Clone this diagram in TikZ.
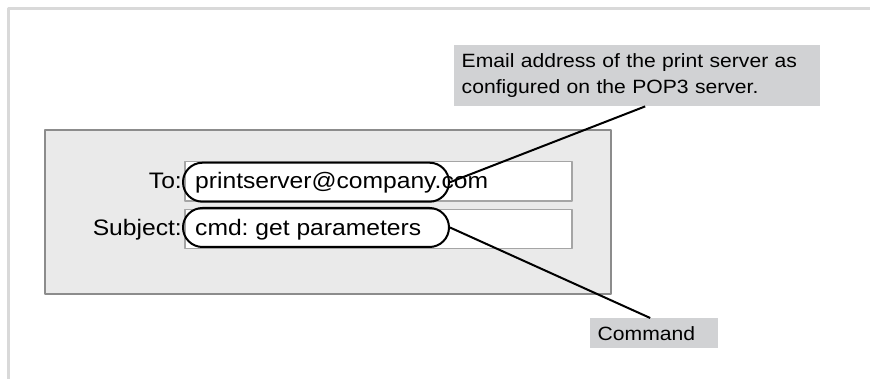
\documentclass[tikz,border=0pt]{standalone}
\usepackage{fontspec}
\setmainfont{Liberation Sans}[FakeStretch=1.1]
\frenchspacing
\usetikzlibrary{shapes.misc}
\definecolor{framegray}{RGB}{217,217,217}
\definecolor{panelgray}{RGB}{234,234,234}
\definecolor{panelborder}{RGB}{140,140,140}
\definecolor{fieldborder}{RGB}{165,165,165}
\definecolor{notegray}{RGB}{209,210,212}
\begin{document}
\begin{tikzpicture}[x=1pt,y=-1pt,line join=round,
	field/.style={draw=fieldborder,fill=white,line width=1.2pt,minimum width=387pt,minimum height=39.3pt,inner sep=0pt},
	oval/.style={rounded rectangle,draw,line width=2pt,minimum width=266pt,minimum height=39pt,inner sep=0pt},
	entry/.style={font=\fontsize{22.4}{26}\selectfont,inner sep=0pt},
	note/.style={fill=notegray,font=\fontsize{19.2}{25.7}\selectfont,inner xsep=7.5pt,inner ysep=0pt,align=left,anchor=north west},
	leader/.style={line width=2pt}]
		\useasboundingbox (0,0) rectangle (870,379);
		\path 
		(8.5,379) coordinate (F1)
		(8.5,8.5) coordinate (F2)
		(870,8.5) coordinate (F3)
		(45,130) coordinate (P1)
		(611,294) coordinate (P2)
		;
		\draw[framegray,line width=3pt] (F1)--(F2)--(F3);
		\draw[draw=panelborder,fill=panelgray,line width=1.8pt] (P1) rectangle (P2);
		% address fields
		\node[field] (tofield) at (378.5,181.3) {};
		\node[field] (subjfield) at (378.5,228.8) {};
		\node[entry,anchor=base east] (tolabel) at (182,189) {To:};
		\node[entry,anchor=base west] (toaddr) at (195,189) {printserver@company.com};
		\node[entry,anchor=base east] (subjlabel) at (182,236) {Subject:};
		\node[entry,anchor=base west] (subjtext) at (195,236) {cmd: get parameters};
		\node[oval] (tooval) at (316,182.2) {};
		\node[oval] (subjoval) at (316,227.5) {};
		% callouts
		\node[note,text width=351pt,minimum height=61pt] (emailnote) at (454,45) {Email address of the print server as\\configured on the POP3 server.};
		\node[note,text width=113pt,minimum height=30pt] (cmdnote) at (590,318) {Command};
		\draw[leader] (tooval.east)--([xshift=8pt]emailnote.south);
		\draw[leader] (subjoval.east)--([xshift=-4pt]cmdnote.north);
	\end{tikzpicture}
\end{document}
